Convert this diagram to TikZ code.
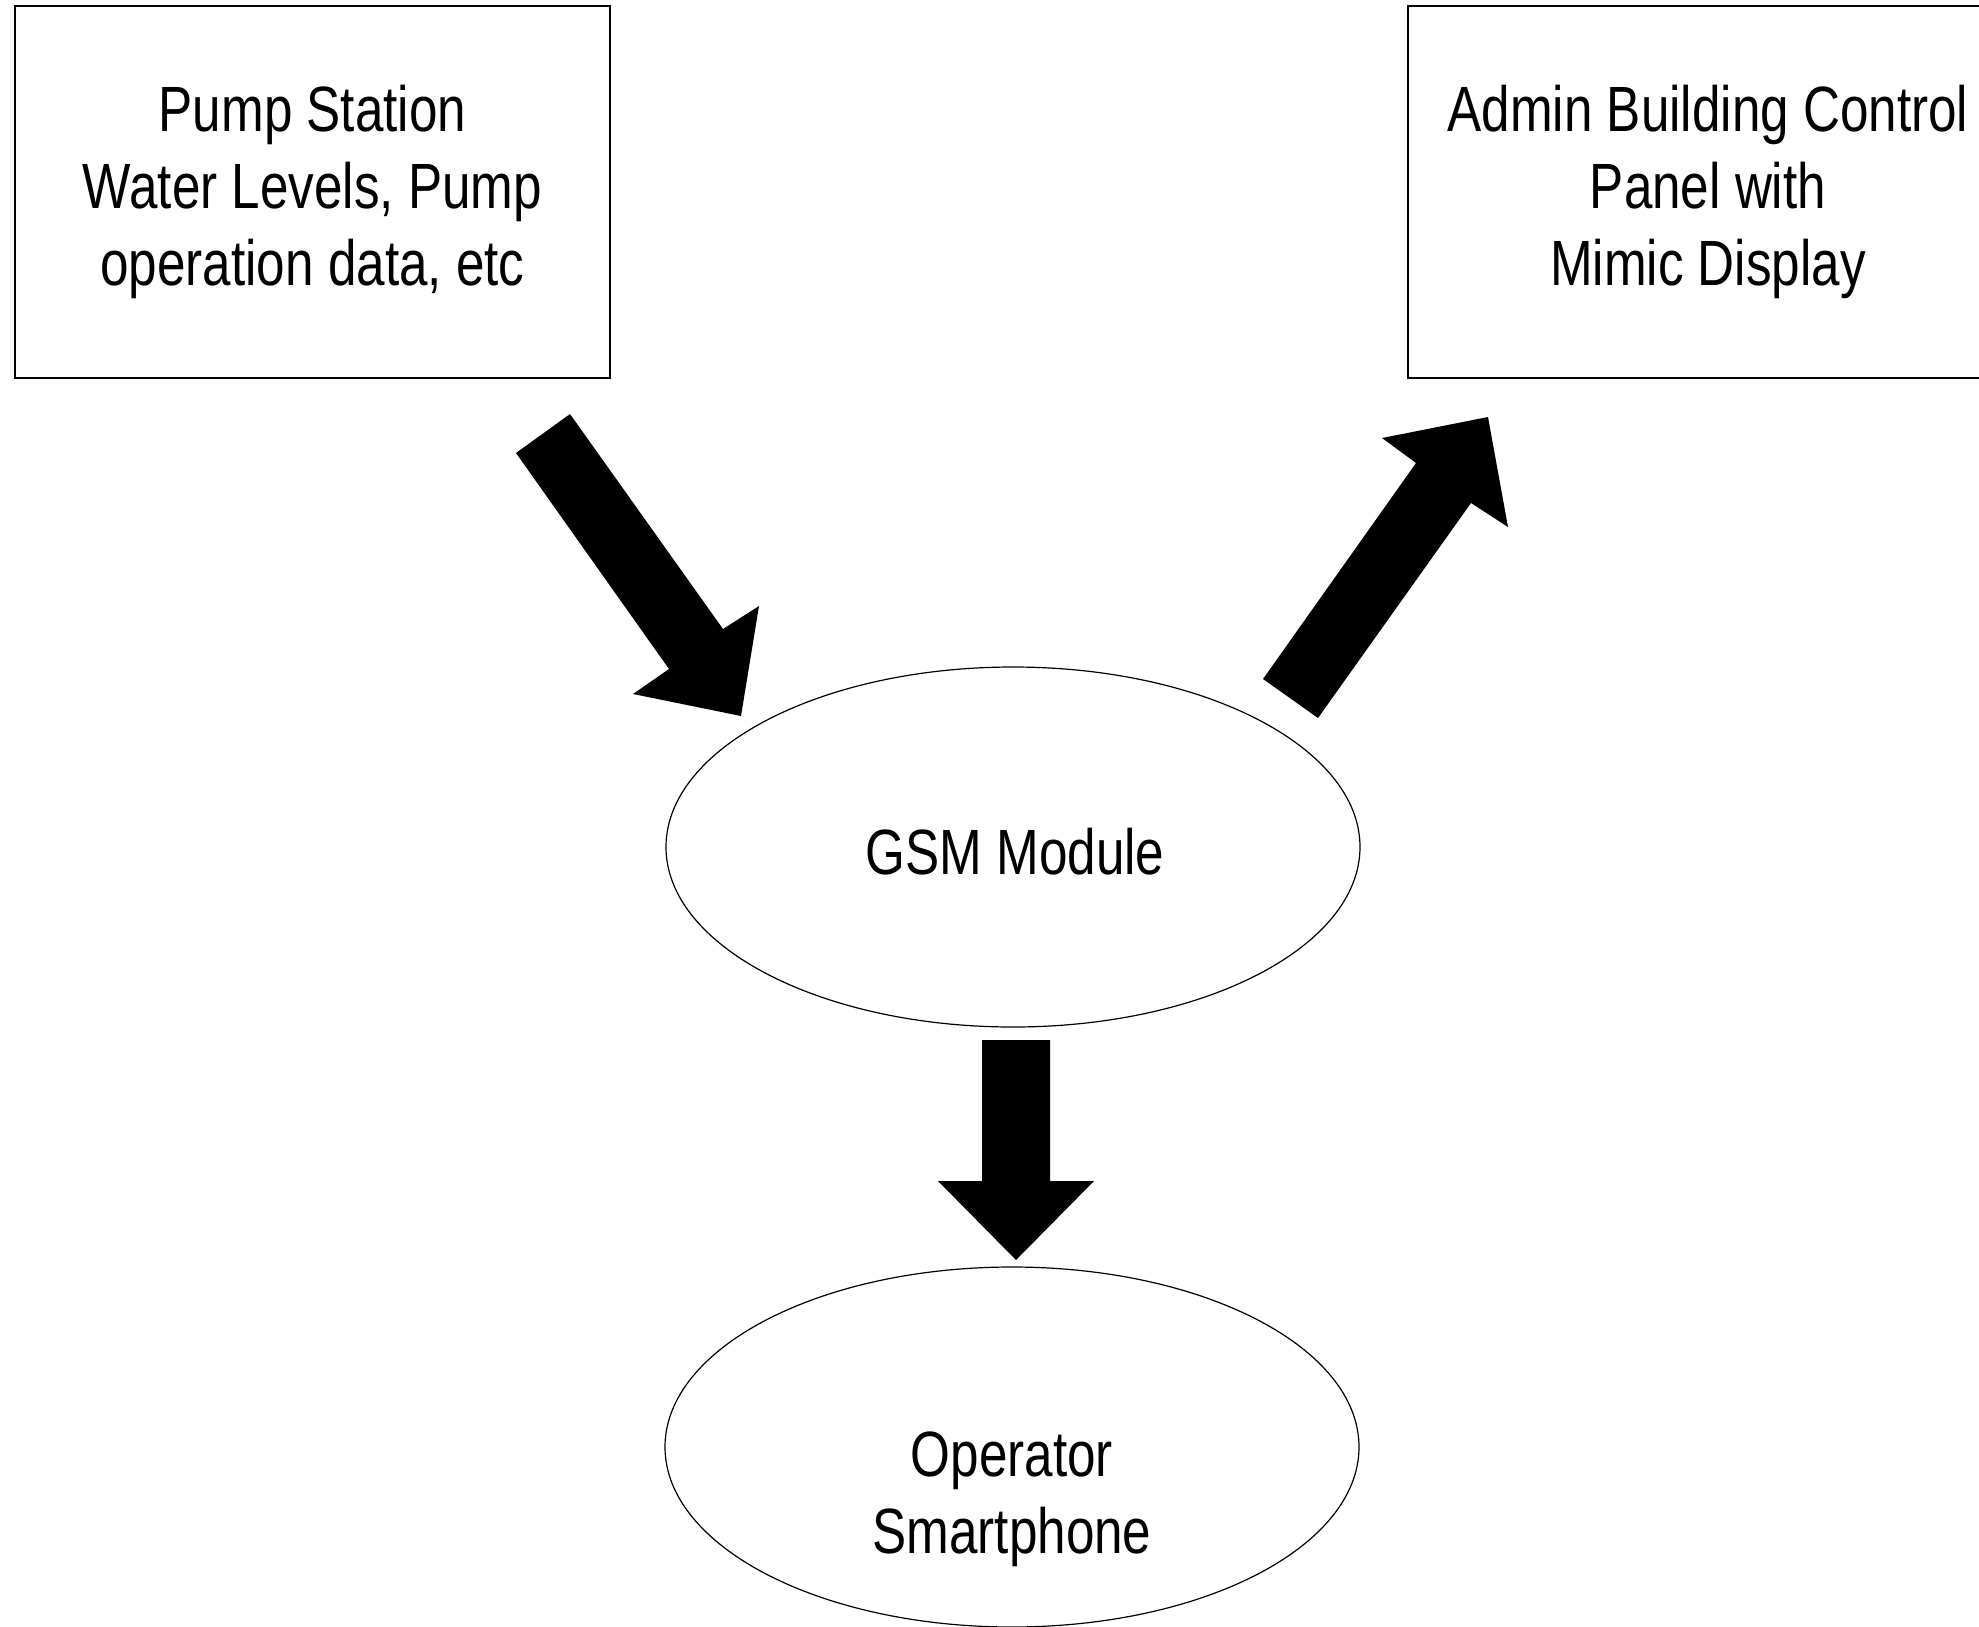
\documentclass[tikz,border=0pt]{standalone}
\usepackage{fontspec}
\setmainfont{Liberation Sans}[FakeStretch=0.8]
\usetikzlibrary{shapes.geometric}
\begin{document}
\begin{tikzpicture}[x=1pt,y=-1pt,
  boxnode/.style={draw,line width=1.2pt,minimum width=595pt,minimum height=372pt,inner sep=0pt},
  ellnode/.style={draw,ellipse,line width=1.2pt,minimum width=694pt,minimum height=360pt,inner sep=0pt},
  lbl/.style={font=\fontsize{64}{77}\selectfont,align=center,anchor=north,inner sep=0pt},
  blockarrow/.style={fill=black,draw=none}]
\useasboundingbox (0,0) rectangle (1979,1626);
\clip (0,0) rectangle (1979,1626);
% boxes and ellipses
\node[boxnode] (pump) at (312.5,192) {};
\node[boxnode] (admin) at (1705.5,192) {};
\node[ellnode] (gsm) at (1013,847) {};
\node[ellnode] (phone) at (1012,1447) {};
% texts
\node[lbl] (pumptxt) at (312.5,85) {Pump Station\\Water Levels, Pump\\operation data, etc};
\node[lbl] (admintxt) at (1708,85) {Admin Building Control\\Panel with\\Mimic Display};
\node[lbl] (gsmtxt) at (1015,828) {GSM Module};
\node[lbl] (phonetxt) at (1012,1432) {Operator\\Smartphone};
% block arrows
\fill[blockarrow] (570,414) -- (723,629) -- (759,606) -- (741,716) -- (633,694) -- (669,669) -- (516,453) -- cycle;
\fill[blockarrow] (1318,718) -- (1263,679) -- (1416,463) -- (1382,438) -- (1488,417) -- (1508,527) -- (1471,503) -- cycle;
\fill[blockarrow] (982,1040) -- (1050,1040) -- (1050,1181) -- (1094,1181) -- (1016,1260) -- (938,1181) -- (982,1181) -- cycle;
\end{tikzpicture}
\end{document}
